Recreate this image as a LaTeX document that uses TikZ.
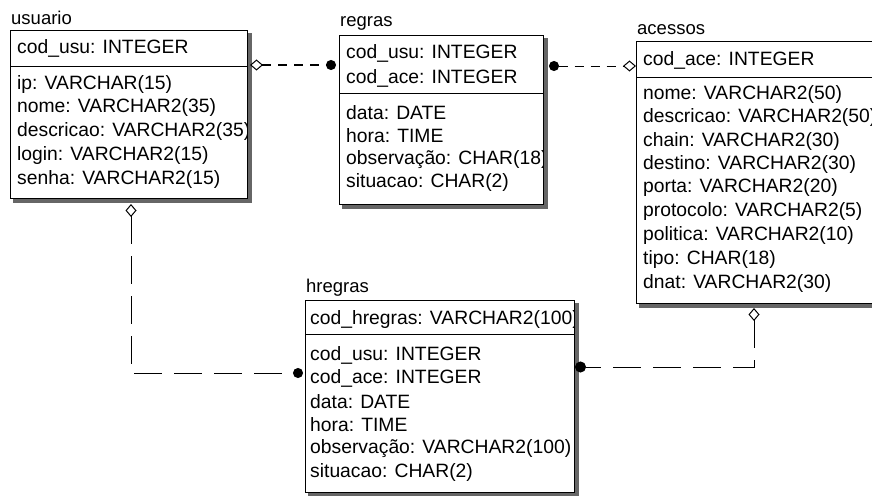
\documentclass[tikz,border=0pt]{standalone}
\usepackage{fontspec}
\setmainfont{Liberation Sans}
\usetikzlibrary{arrows.meta}
\begin{document}
\begin{tikzpicture}[x=1pt,y=-1pt,
  tbl/.style={draw=black,line width=1pt,fill=white,anchor=north west,inner sep=0pt},
  shadowbox/.style={fill=black!60},
  sepline/.style={line width=1pt},
  fld/.style={anchor=west,inner sep=0pt,font=\fontsize{19.3}{21}\selectfont},
  ttl/.style={anchor=west,inner sep=0pt,font=\fontsize{18.5}{20}\selectfont},
  shortdash/.style={line width=1pt,dash pattern=on 9pt off 7pt},
  longdash/.style={line width=1pt,dash pattern=on 28pt off 12pt}
]
\useasboundingbox[fill=white] (0,0) rectangle (872,495);

% ---------- usuario ----------
\fill[shadowbox] (246,33) rectangle (252,203);
\fill[shadowbox] (13,197) rectangle (252,203);
\node[tbl,minimum width=237pt,minimum height=168pt] (usuario) at (10,30) {};
\draw[sepline] (10,66) -- (247,66);
\node[ttl] (usuarioT) at (11,18) {usuario};
\begin{scope}
\clip (11,31) rectangle (246,197);
\node[fld] (u1) at (17,48) {cod\_usu: INTEGER};
\node[fld] (u2) at (17,85) {ip: VARCHAR(15)};
\node[fld] (u3) at (17,108) {nome: VARCHAR2(35)};
\node[fld] (u4) at (17,132) {descricao: VARCHAR2(35)};
\node[fld] (u5) at (17,156) {login: VARCHAR2(15)};
\node[fld] (u6) at (17,180) {senha: VARCHAR2(15)};
\end{scope}

% ---------- regras ----------
\fill[shadowbox] (542,38) rectangle (548,209);
\fill[shadowbox] (342,203) rectangle (548,209);
\node[tbl,minimum width=204pt,minimum height=169pt] (regras) at (339,35) {};
\draw[sepline] (339,93) -- (543,93);
\node[ttl] (regrasT) at (340,23) {regras};
\begin{scope}
\clip (340,36) rectangle (542,203);
\node[fld] (r1) at (346,53) {cod\_usu: INTEGER};
\node[fld] (r2) at (346,78) {cod\_ace: INTEGER};
\node[fld] (r3) at (346,113) {data: DATE};
\node[fld] (r4) at (346,136) {hora: TIME};
\node[fld] (r5) at (346,160) {observação: CHAR(18)};
\node[fld] (r6) at (346,183) {situacao: CHAR(2)};
\end{scope}

% ---------- acessos ----------
\fill[shadowbox] (639,302) rectangle (872,308);
\node[tbl,minimum width=240pt,minimum height=262pt] (acessos) at (636,41) {};
\draw[sepline] (636,77) -- (872,77);
\node[ttl] (acessosT) at (637,30) {acessos};
\begin{scope}
\clip (637,42) rectangle (872,302);
\node[fld] (a1) at (643,60) {cod\_ace: INTEGER};
\node[fld] (a2) at (643,95) {nome: VARCHAR2(50)};
\node[fld] (a3) at (643,118) {descricao: VARCHAR2(50)};
\node[fld] (a4) at (643,142) {chain: VARCHAR2(30)};
\node[fld] (a5) at (643,165) {destino: VARCHAR2(30)};
\node[fld] (a6) at (643,188) {porta: VARCHAR2(20)};
\node[fld] (a7) at (643,212) {protocolo: VARCHAR2(5)};
\node[fld] (a8) at (643,236) {politica: VARCHAR2(10)};
\node[fld] (a9) at (643,260) {tipo: CHAR(18)};
\node[fld] (a10) at (643,284) {dnat: VARCHAR2(30)};
\end{scope}

% ---------- hregras ----------
\fill[shadowbox] (573,303) rectangle (579,496);
\fill[shadowbox] (308,491) rectangle (579,496);
\node[tbl,minimum width=269pt,minimum height=192pt] (hregras) at (305,300) {};
\draw[sepline] (305,334) -- (574,334);
\node[ttl] (hregrasT) at (306,288) {hregras};
\begin{scope}
\clip (306,301) rectangle (573,491);
\node[fld] (h1) at (310,320) {cod\_hregras: VARCHAR2(100)};
\node[fld] (h2) at (310,355) {cod\_usu: INTEGER};
\node[fld] (h3) at (310,378) {cod\_ace: INTEGER};
\node[fld] (h4) at (310,402) {data: DATE};
\node[fld] (h5) at (310,425) {hora: TIME};
\node[fld] (h6) at (310,449) {observação: VARCHAR2(100)};
\node[fld] (h7) at (310,472) {situacao: CHAR(2)};
\end{scope}

% ---------- connectors ----------
\coordinate (c1a) at (usuario.east |- 0,65);
\coordinate (c1b) at (regras.west |- 0,65);
\draw[shortdash,{Diamond[open,length=13pt,width=11pt]}-{Circle[length=10pt]}]
  ([xshift=2pt]c1a) -- ([xshift=-3pt]c1b);

\coordinate (c2a) at (regras.east |- 0,66);
\coordinate (c2b) at (acessos.west |- 0,66);
\draw[shortdash,{Circle[length=10pt]}-{Diamond[open,length=13pt,width=11pt]}]
  ([xshift=5pt]c2a) -- (c2b);

\coordinate (c3a) at (131,204);
\coordinate (c3b) at (hregras.west |- 0,373);
\draw[longdash,{Diamond[open,length=13pt,width=11pt]}-{Circle[length=10pt]}]
  (c3a) |- ([xshift=-2pt]c3b);

\coordinate (c4a) at (754,308);
\coordinate (c4b) at (hregras.east |- 0,367);
\draw[longdash,{Diamond[open,length=13pt,width=11pt]}-{Circle[length=11pt]}]
  (c4a) |- (c4b);
\end{tikzpicture}
\end{document}
